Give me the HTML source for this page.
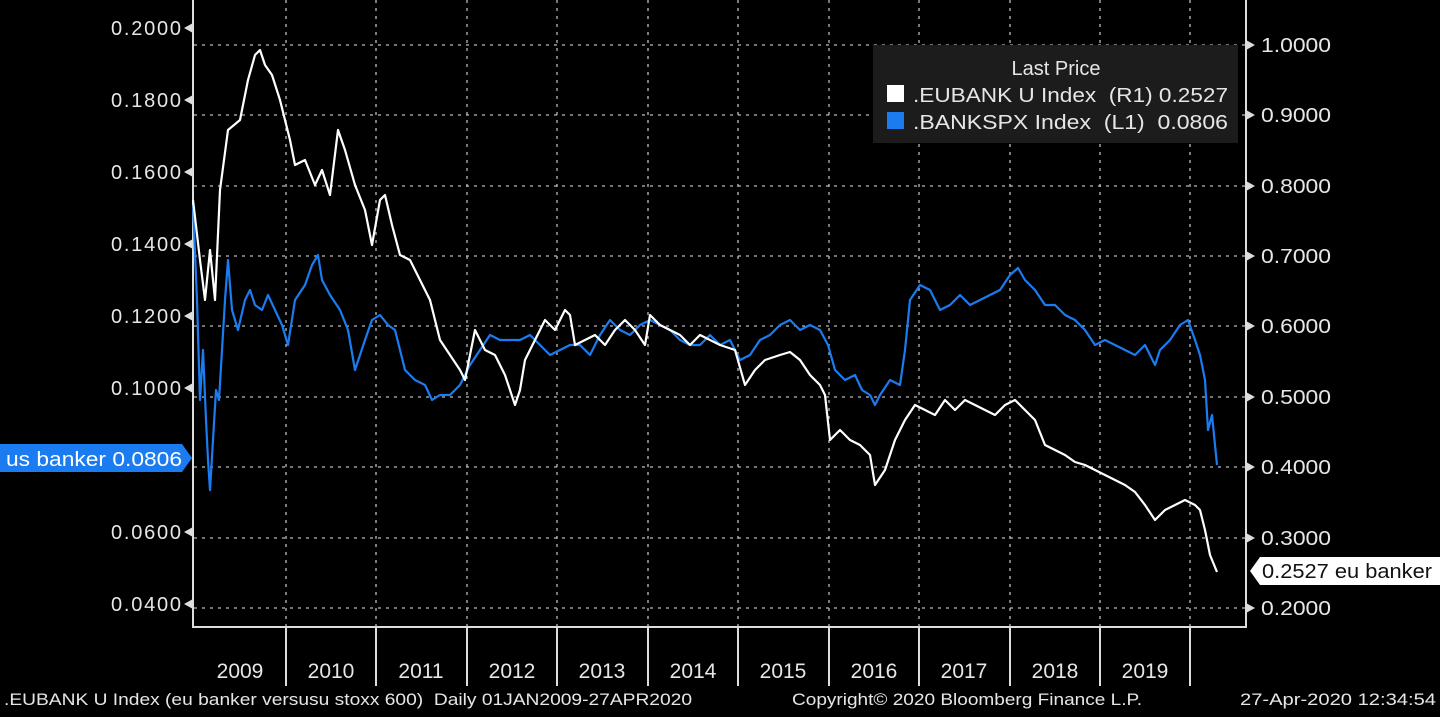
<!DOCTYPE html>
<html><head><style>
body{margin:0;background:#000;width:1440px;height:712px;overflow:hidden}
svg text{font-family:"Liberation Sans","DejaVu Sans",sans-serif;white-space:pre}
</style></head><body>
<svg width="1440" height="712" viewBox="0 0 1440 712" xmlns="http://www.w3.org/2000/svg">
<rect width="1440" height="712" fill="#000"/>
<g stroke="#bbb" stroke-width="1.3" stroke-dasharray="3,5" fill="none">
<line x1="194" y1="45" x2="1245" y2="45"/><line x1="194" y1="115" x2="1245" y2="115"/><line x1="194" y1="186" x2="1245" y2="186"/><line x1="194" y1="256" x2="1245" y2="256"/><line x1="194" y1="326" x2="1245" y2="326"/><line x1="194" y1="397" x2="1245" y2="397"/><line x1="194" y1="467" x2="1245" y2="467"/><line x1="194" y1="538" x2="1245" y2="538"/><line x1="194" y1="608" x2="1245" y2="608"/>
<line x1="286" y1="0" x2="286" y2="627"/><line x1="376" y1="0" x2="376" y2="627"/><line x1="467" y1="0" x2="467" y2="627"/><line x1="557" y1="0" x2="557" y2="627"/><line x1="648" y1="0" x2="648" y2="627"/><line x1="738" y1="0" x2="738" y2="627"/><line x1="829" y1="0" x2="829" y2="627"/><line x1="919" y1="0" x2="919" y2="627"/><line x1="1010" y1="0" x2="1010" y2="627"/><line x1="1100" y1="0" x2="1100" y2="627"/><line x1="1190" y1="0" x2="1190" y2="627"/>
</g>
<g stroke="#ddd" stroke-width="2" fill="none">
<polyline points="193,0 193,627 1246,627 1246,0"/>
<line x1="286" y1="627" x2="286" y2="686"/><line x1="376" y1="627" x2="376" y2="686"/><line x1="467" y1="627" x2="467" y2="686"/><line x1="557" y1="627" x2="557" y2="686"/><line x1="648" y1="627" x2="648" y2="686"/><line x1="738" y1="627" x2="738" y2="686"/><line x1="829" y1="627" x2="829" y2="686"/><line x1="919" y1="627" x2="919" y2="686"/><line x1="1010" y1="627" x2="1010" y2="686"/><line x1="1100" y1="627" x2="1100" y2="686"/><line x1="1190" y1="627" x2="1190" y2="686"/>
</g>
<g fill="#ddd">
<path d="M184,28 l9,-5 v10z"/><path d="M184,100 l9,-5 v10z"/><path d="M184,172 l9,-5 v10z"/><path d="M184,244 l9,-5 v10z"/><path d="M184,316 l9,-5 v10z"/><path d="M184,388 l9,-5 v10z"/><path d="M184,532 l9,-5 v10z"/><path d="M184,604 l9,-5 v10z"/>
<path d="M1255,45 l-9,-5 v10z"/><path d="M1255,115 l-9,-5 v10z"/><path d="M1255,186 l-9,-5 v10z"/><path d="M1255,256 l-9,-5 v10z"/><path d="M1255,326 l-9,-5 v10z"/><path d="M1255,397 l-9,-5 v10z"/><path d="M1255,467 l-9,-5 v10z"/><path d="M1255,538 l-9,-5 v10z"/><path d="M1255,608 l-9,-5 v10z"/>
</g>
<g fill="#e6e6e6" font-size="20" lengthAdjust="spacingAndGlyphs">
<text x="111" y="35" textLength="70">0.2000</text><text x="111" y="107" textLength="70">0.1800</text><text x="111" y="179" textLength="70">0.1600</text><text x="111" y="251" textLength="70">0.1400</text><text x="111" y="323" textLength="70">0.1200</text><text x="111" y="395" textLength="70">0.1000</text><text x="111" y="539" textLength="70">0.0600</text><text x="111" y="611" textLength="70">0.0400</text>
</g>
<g fill="#e6e6e6" font-size="20">
<text x="1261" y="52" textLength="70" lengthAdjust="spacingAndGlyphs">1.0000</text><text x="1261" y="122" textLength="70" lengthAdjust="spacingAndGlyphs">0.9000</text><text x="1261" y="193" textLength="70" lengthAdjust="spacingAndGlyphs">0.8000</text><text x="1261" y="263" textLength="70" lengthAdjust="spacingAndGlyphs">0.7000</text><text x="1261" y="333" textLength="70" lengthAdjust="spacingAndGlyphs">0.6000</text><text x="1261" y="404" textLength="70" lengthAdjust="spacingAndGlyphs">0.5000</text><text x="1261" y="474" textLength="70" lengthAdjust="spacingAndGlyphs">0.4000</text><text x="1261" y="545" textLength="70" lengthAdjust="spacingAndGlyphs">0.3000</text><text x="1261" y="615" textLength="70" lengthAdjust="spacingAndGlyphs">0.2000</text>
</g>
<g fill="#e6e6e6" font-size="21" text-anchor="middle">
<text x="240" y="678">2009</text><text x="331" y="678">2010</text><text x="421" y="678">2011</text><text x="512" y="678">2012</text><text x="602" y="678">2013</text><text x="693" y="678">2014</text><text x="783" y="678">2015</text><text x="874" y="678">2016</text><text x="964" y="678">2017</text><text x="1055" y="678">2018</text><text x="1145" y="678">2019</text>
</g>
<polyline fill="none" stroke="#1a7cf0" stroke-width="2.2" stroke-linejoin="round" points="193,205 197,300 200,400 203,350 206,420 208,460 210,490 213,440 216,390 219,400 222,350 225,300 228,260 232,310 238,330 245,300 250,290 255,305 262,310 268,295 275,310 282,325 288,345 295,300 305,285 312,265 318,255 322,280 330,295 340,310 348,330 355,370 365,340 372,320 380,315 388,325 395,330 405,370 415,380 425,385 432,400 440,395 450,395 460,385 465,375 470,365 480,350 490,335 500,340 510,340 520,340 530,335 540,345 550,355 560,350 570,345 580,345 590,355 600,335 610,320 620,330 630,335 640,325 650,320 660,325 670,330 680,340 690,345 700,345 710,335 720,345 730,340 740,360 750,355 760,340 770,335 780,325 790,320 800,330 810,325 820,330 828,345 835,370 845,380 855,375 862,390 870,395 875,405 880,395 890,380 900,385 905,350 910,300 920,285 930,290 940,310 950,305 960,295 970,305 980,300 990,295 1000,290 1010,275 1018,268 1025,280 1035,290 1045,305 1055,305 1065,315 1075,320 1085,330 1095,345 1105,340 1115,345 1125,350 1135,355 1145,345 1155,365 1160,350 1170,340 1180,325 1188,320 1195,340 1200,355 1205,380 1208,430 1212,415 1217,465"/>
<polyline fill="none" stroke="#fff" stroke-width="2.2" stroke-linejoin="round" points="193,200 200,260 205,300 210,250 215,300 220,190 228,130 240,120 248,80 255,55 260,50 265,65 272,75 280,100 290,140 295,165 305,160 315,185 322,170 330,195 338,130 345,150 355,185 365,210 372,245 380,200 385,195 392,225 400,255 410,260 420,280 430,300 440,340 450,355 460,370 465,380 475,330 485,350 495,355 505,375 515,405 520,390 525,360 535,340 545,320 555,330 565,310 570,315 575,345 585,340 595,335 605,345 615,330 625,320 635,330 645,345 650,315 660,325 670,330 680,335 690,345 700,335 710,340 720,345 735,350 745,385 755,370 765,360 780,355 790,352 800,360 810,375 820,385 825,395 830,440 840,430 850,440 860,445 870,455 875,485 885,470 895,440 905,420 915,405 925,410 935,415 945,400 955,410 965,400 975,405 985,410 995,415 1005,405 1015,400 1025,410 1035,420 1045,445 1055,450 1065,455 1075,462 1085,465 1095,470 1105,475 1115,480 1125,485 1135,492 1145,505 1155,520 1165,510 1175,505 1185,500 1195,505 1200,510 1205,530 1210,555 1217,572"/>
<rect x="873" y="45" width="365" height="98" fill="#1c1c1c"/>
<text x="1056" y="75" fill="#e6e6e6" font-size="20" text-anchor="middle">Last Price</text>
<rect x="887" y="85" width="17" height="17" fill="#fff"/>
<rect x="887" y="112" width="17" height="17" fill="#1a7cf0"/>
<text x="913" y="102" fill="#e6e6e6" font-size="20" textLength="315" lengthAdjust="spacingAndGlyphs">.EUBANK U Index  (R1) 0.2527</text>
<text x="913" y="129" fill="#e6e6e6" font-size="20" textLength="315" lengthAdjust="spacingAndGlyphs">.BANKSPX Index  (L1)  0.0806</text>
<path d="M0,444 H182 L192,458 L182,472 H0 Z" fill="#1a7cf0"/>
<text x="6" y="466" fill="#fff" font-size="20" textLength="176" lengthAdjust="spacingAndGlyphs">us banker 0.0806</text>
<path d="M1260,557 H1440 V585 H1260 L1250,571 Z" fill="#fff"/>
<text x="1262" y="578" fill="#111" font-size="20" textLength="170" lengthAdjust="spacingAndGlyphs">0.2527 eu banker</text>
<g fill="#e6e6e6" font-size="17">
<text x="4" y="705" textLength="688" lengthAdjust="spacingAndGlyphs">.EUBANK U Index (eu banker versusu stoxx 600)  Daily 01JAN2009-27APR2020</text>
<text x="792" y="705" textLength="350" lengthAdjust="spacingAndGlyphs">Copyright© 2020 Bloomberg Finance L.P.</text>
<text x="1240" y="705" textLength="196" lengthAdjust="spacingAndGlyphs">27-Apr-2020 12:34:54</text>
</g>
</svg>
</body></html>
